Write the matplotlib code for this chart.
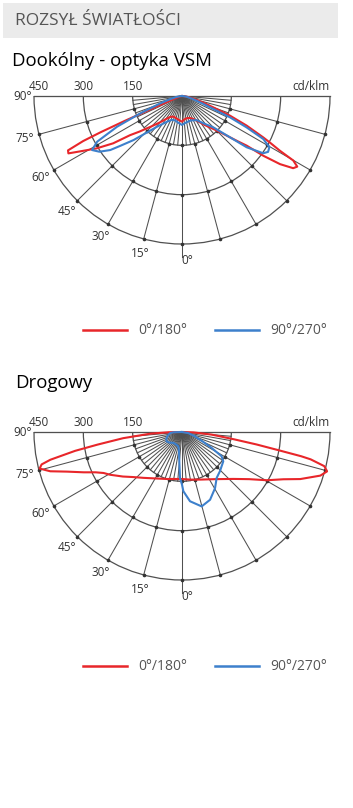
import numpy as np
import matplotlib
matplotlib.use("Agg")
import matplotlib.pyplot as plt
from matplotlib.patches import Arc, Rectangle
from matplotlib.lines import Line2D

W, H = 353, 808
K = 450 / 148  # cd/klm per pixel

RED = "#e8262a"
BLUE = "#3d80cc"
GRID = "#505050"

# --- Dookólny - optyka VSM (angles in degrees from nadir, values in cd/klm)
c180_ang_1 = [0, 5, 10, 15, 20, 25, 30, 35, 40, 45, 47.5, 50, 53, 55.5, 58.5, 61.5, 63.2, 64.5, 65.5, 66, 66.5, 67, 68, 70, 75, 80, 90]
c180_val_1 = [78, 75, 72, 70, 68, 69, 74, 86, 105, 130, 146, 168, 198, 254, 305, 353, 387, 384, 330, 270, 190, 110, 55, 25, 10, 5, 0]
c0_ang_1 = [0, 5, 12, 20, 26, 32, 38, 43.5, 47, 49.3, 51, 52.5, 53.7, 55.2, 57, 58.5, 59.9, 60.8, 62, 63, 65.4, 67.7, 70, 73, 76, 80, 85, 90]
c0_val_1 = [78, 72, 69, 71, 78, 90, 112, 138, 165, 193, 220, 248, 307, 363, 403, 411, 391, 341, 305, 277, 216, 158, 101, 65, 40, 22, 8, 0]
c270_ang_1 = [0, 8, 16, 23, 30, 39, 44, 47.7, 51, 53, 56, 59, 61.7, 64.7, 67.4, 71.3, 75, 80, 85, 90]
c270_val_1 = [88, 82, 77, 79, 90, 120, 155, 199, 240, 273, 303, 319, 293, 218, 137, 70, 38, 18, 6, 0]
c90_ang_1 = [0, 6, 13, 20, 31.4, 38, 45, 49.3, 51.6, 54.8, 57, 59.6, 62.1, 64.1, 66, 67.5, 70, 75, 80, 85, 90]
c90_val_1 = [88, 83, 80, 79, 86, 105, 135, 193, 251, 302, 312, 308, 280, 218, 160, 103, 65, 32, 15, 5, 0]

# --- Drogowy
c180_ang_2 = [0, 10, 17.7, 30, 40, 47, 53, 59.2, 62.4, 65, 67.7, 71, 73.4, 75.6, 77, 78.1, 80, 81.5, 84, 87, 89, 90]
c180_val_2 = [143, 145, 150, 163, 182, 201, 225, 254, 269, 290, 323, 370, 418, 447, 438, 409, 330, 260, 180, 96, 40, 5]
c0_ang_2 = [0, 10, 21, 35, 47.7, 55, 60.4, 65, 68.3, 72.5, 74.8, 76.5, 78, 78.5, 79.3, 80.5, 82, 85, 88, 90]
c0_val_2 = [143, 147, 155, 175, 212, 250, 297, 340, 387, 441, 457, 445, 400, 370, 300, 230, 160, 90, 35, 5]
c270_ang_2 = [0, 2.5, 5.2, 10, 14.3, 25, 38, 50, 58.7, 66, 73, 80, 85, 88, 90]
c270_val_2 = [160, 140, 90, 55, 45, 42, 42, 50, 55, 52, 47, 40, 36, 25, 0]
c90_ang_2 = [0, 1.3, 6.6, 14.8, 22.5, 30.5, 37, 44, 54.6, 58.5, 62, 66, 72, 80, 90]
c90_val_2 = [160, 180, 212, 234, 223, 198, 175, 166, 154, 141, 100, 65, 40, 20, 0]

ring_values = [150, 300, 450]
angle_labels = [75, 60, 45, 30, 15]
legend_labels = ["0°/180°", "90°/270°"]

FONT = "Open Sans"

fig = plt.figure(figsize=(W / 100, H / 100), dpi=100)


def fx(x):
    return x / W


def fy(y):
    return 1 - y / H


def curve(left_ang, left_val, right_ang, right_val):
    la = np.radians(left_ang[::-1])
    lr = np.array(left_val[::-1], float)
    ra = np.radians(right_ang)
    rr = np.array(right_val, float)
    x = np.concatenate([-lr * np.sin(la), rr * np.sin(ra)])
    y = np.concatenate([-lr * np.cos(la), -rr * np.cos(ra)])
    return x, y


def draw_chart(cx, cy, top, bottom, red, blue):
    ax = fig.add_axes([0, fy(bottom), 1, (bottom - top) / H])
    ax.set_xlim(-cx * K, (W - cx) * K)
    ax.set_ylim((cy - bottom) * K, (cy - top) * K)
    ax.axis("off")

    # rings
    for r in ring_values:
        ax.add_patch(Arc((0, 0), 2 * r, 2 * r, theta1=180, theta2=360,
                         color=GRID, lw=0.9))
    ax.plot([-450, 450], [0, 0], color=GRID, lw=0.9)

    # spokes
    for a in range(-90, 91, 5):
        t = np.radians(a)
        if a % 15 == 0:
            rmax = 490 if a == 0 else 450
        else:
            rmax = 150
        ax.plot([0, rmax * np.sin(t)], [0, -rmax * np.cos(t)], color=GRID, lw=0.75)

    # small dots on crossings
    for a in range(-75, 76, 15):
        t = np.radians(a)
        for r in ring_values:
            ax.plot(r * np.sin(t), -r * np.cos(t), "o", color="#333333", ms=1.6)

    # curves
    xr, yr = curve(*red)
    ax.plot(xr, yr, color=RED, lw=1.5, solid_joinstyle="round")
    xb, yb = curve(*blue)
    ax.plot(xb, yb, color=BLUE, lw=1.5, solid_joinstyle="round")

    # labels
    tkw = dict(fontsize=8.5, color="#333333", family=FONT)
    for r in ring_values:
        ax.text(-r + (15 if r == 450 else 0), 8, str(r), ha="center", va="bottom", **tkw)
    ax.text(450, 8, "cd/klm", ha="right", va="bottom", **tkw)
    ax.text(-455, 0, "90°", ha="right", va="center", **tkw)
    for a in angle_labels:
        t = np.radians(a)
        ax.text(-495 * np.sin(t), -495 * np.cos(t), f"{a}°", ha="center", va="center", **tkw)
    ax.text(15, -500, "0°", ha="center", va="center", **tkw)
    return ax


def draw_legend(y):
    handles = [Line2D([], [], color=RED, lw=1.8), Line2D([], [], color=BLUE, lw=1.8)]
    fig.legend(handles, legend_labels, loc="center", bbox_to_anchor=(fx(205), fy(y)),
               ncol=2, frameon=False, handlelength=3.2, handletextpad=0.8,
               columnspacing=2.0, prop={"family": FONT, "size": 10},
               labelcolor="#555555")


# header
fig.add_artist(Rectangle((fx(3), fy(38)), fx(335), 35 / H, transform=fig.transFigure,
                         facecolor="#ebebeb", edgecolor="none"))
fig.text(fx(15), fy(21), "ROZSYŁ ŚWIATŁOŚCI", fontsize=12.5, color="#555555",
         family=FONT, va="center", ha="left")
fig.text(fx(12), fy(61), "Dookólny - optyka VSM", fontsize=13.4, color="black",
         family=FONT, va="center", ha="left")
fig.text(fx(15), fy(383), "Drogowy", fontsize=13.4, color="black",
         family=FONT, va="center", ha="left")

draw_chart(182, 96, 75, 275,
           (c180_ang_1, c180_val_1, c0_ang_1, c0_val_1),
           (c270_ang_1, c270_val_1, c90_ang_1, c90_val_1))
draw_legend(331)

draw_chart(182, 432, 410, 612,
           (c180_ang_2, c180_val_2, c0_ang_2, c0_val_2),
           (c270_ang_2, c270_val_2, c90_ang_2, c90_val_2))
draw_legend(667)

fig.savefig("out.png", dpi=100, facecolor="white")
